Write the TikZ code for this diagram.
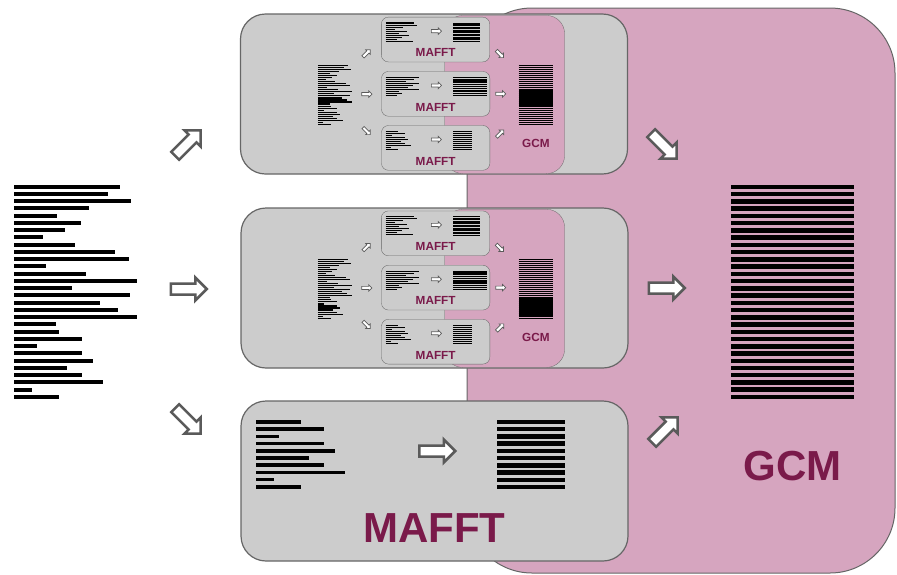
\documentclass[tikz,border=0pt]{standalone}
\usepackage{fontspec}
\setsansfont{Liberation Sans}
\usetikzlibrary{shapes.arrows,positioning}

\definecolor{panelgray}{RGB}{204,204,204}
\definecolor{edgegray}{RGB}{102,102,102}
\definecolor{gcmpink}{RGB}{214,165,191}
\definecolor{gcmplum}{RGB}{122,26,74}
\definecolor{arrowgray}{RGB}{90,90,90}

\tikzset{
    panel/.style={draw=edgegray, line width=1.2pt, fill=panelgray, rounded corners=25pt,
        minimum width=387pt, minimum height=160pt, inner sep=0pt},
    gcmback/.style={draw=edgegray, line width=1pt, fill=gcmpink, rounded corners=65pt},
    hollow/.style={single arrow, draw=arrowgray, fill=white, line width=2.5pt, minimum height=36pt,
        single arrow head extend=6pt, inner xsep=0pt, inner ysep=4.25pt},
    seqbar/.style={line width=4pt, black},
    alnbar/.style={line width=4.5pt, black},
    tool/.style={font=\sffamily\bfseries\fontsize{42}{42}\selectfont, text=gcmplum, inner sep=0pt}
}

% one MAFFT panel: #1 name, #2 centre y, #3 raw lengths, #4 aligned width, #5 aligned rows
\newcommand\mafftbox[5]{%
    \foreach \w [count=\i from 0] in {#3}
        \draw[seqbar, line width=3.7pt] (256,#2-59+7.2*\i) -- ++(\w,0);
    \node[hollow] (#1-arrow) at (434.5,#2-30) {};
    \pgfmathsetmacro\rowgap{65/(#5-1)}
    \pgfmathsetmacro\rowlw{min(4.5,0.62*\rowgap)}
    \foreach \i in {1,...,#5}
        \draw[alnbar, line width=\rowlw pt] (497,#2-59+\rowgap*\i-\rowgap) -- ++(#4,0);
    \node[tool] (#1-label) at (434.5,#2+47.5) {MAFFT};
}

% whole pipeline; #1>0 puts a smaller pipeline into the two upper panels
\newcommand\pipeline[1]{%
    % GCM backdrop
    \draw[gcmback] (467,8) rectangle (895,573);
    % input sequences
    \foreach \w [count=\i from 0] in {106,94,117,75,43,67,51,29,61,101,115,32,72,123,58,
            116,86,104,123,42,45,68,23,68,79,53,68,89,18,45}
        \draw[seqbar] (14,186.7+7.25*\i) -- ++(\w,0);
    % panels
    \node[panel] (upper) at (434,94) {};
    \node[panel] (middle) at (434.5,288) {};
    \node[panel] (lower) at (434.5,481) {};
    \ifnum#1>0\relax
        \begin{scope}[transform canvas={shift={(314,13.2)},scale=0.28}, name prefix=up-]
            \pipeline{0}
        \end{scope}
        \begin{scope}[transform canvas={shift={(314,207)},scale=0.28}, name prefix=mid-]
            \pipeline{0}
        \end{scope}
    \else
        \mafftbox{uppermafft}{94}{101,113,62,35,75,47,83,60,40,99}{95}{14}
        \mafftbox{middlemafft}{288}{118,100,72,118,96,80,118,48,60,40}{122}{11}
    \fi
    \mafftbox{lowermafft}{481}{45,68,23,68,79,53,68,89,18,45}{68}{10}
    % arrows into the panels
    \node[hollow, rotate=45] (split-up) at (186,145) {};
    \node[hollow] (split-mid) at (186,289) {};
    \node[hollow, rotate=-45] (split-low) at (186,419) {};
    % arrows into GCM
    \node[hollow, rotate=-45] (merge-up) at (662,144) {};
    \node[hollow] (merge-mid) at (664,288) {};
    \node[hollow, rotate=45] (merge-low) at (663,432) {};
    % merged alignment
    \foreach \i in {0,...,29}
        \draw[alnbar] (731,187+7.24*\i) -- ++(123,0);
    \node[tool] (gcm) at (792.5,466.5) {GCM};
}

\begin{document}
\begin{tikzpicture}[x=1pt, y=-1pt]
\fill[white] (0,0) rectangle (897,574);
\useasboundingbox (0,0) rectangle (897,574);

\pipeline{1}

\end{tikzpicture}
\end{document}
